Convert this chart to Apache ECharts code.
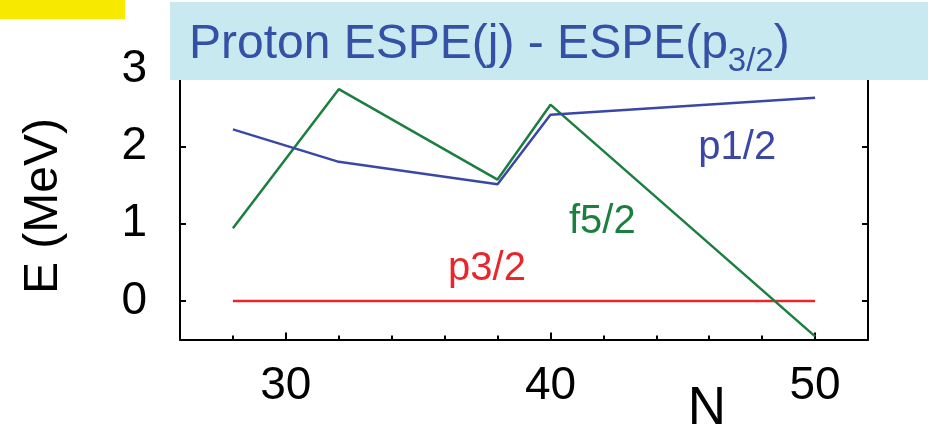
<!DOCTYPE html>
<html>
<head>
<meta charset="utf-8">
<script src="https://cdn.jsdelivr.net/npm/echarts@6/dist/echarts.min.js"></script>
<style>
  html, body { margin: 0; padding: 0; background: #ffffff; }
  #chart { width: 928px; height: 432px; }
</style>
</head>
<body>
<div id="chart"></div>
<script>
// Neutron number N and effective single-particle energies relative to p3/2 (MeV)
const nValues = [28, 32, 38, 40, 50];
const p32Energy = [0, 0, 0, 0, 0];
const p12Energy = [2.22, 1.80, 1.51, 2.41, 2.63];
const f52Energy = [0.94, 2.74, 1.57, 2.54, -0.46];

const xLabelValues = [30, 40, 50];
const xMinorTicks = [28, 32, 34, 36, 38, 42, 44, 46, 48];
const yTickValues = [0, 1, 2, 3];

// Where each orbital name sits, in data coordinates
const labelSpots = {
  'p3/2': [37.6, 0.41],
  'p1/2': [47.06, 1.98],
  'f5/2': [41.96, 1.02]
};

const FONT = '"Liberation Sans", Arial, Helvetica, sans-serif';
const RED = '#e8262b', BLUE = '#3a47a6', GREEN = '#1b7f3f';

function pairs(ys) { return nValues.map((n, i) => [n, ys[i]]); }

function curve(name, ys, color) {
  return {
    name: name,
    type: 'line',
    data: pairs(ys),
    symbol: 'none',
    lineStyle: { color: color, width: 2.5 },
    animation: false,
    markPoint: {
      symbol: 'circle',
      symbolSize: 0,
      silent: true,
      data: [{ name: name, coord: labelSpots[name] }],
      label: {
        show: true,
        position: 'inside',
        formatter: '{b}',
        color: color,
        fontFamily: FONT,
        fontSize: 40
      }
    }
  };
}

const axisLineStyle = { show: true, onZero: false, lineStyle: { color: '#000', width: 2 } };

const chart = echarts.init(document.getElementById('chart'), null, { renderer: 'canvas' });
chart.setOption({
  animation: false,
  backgroundColor: '#ffffff',
  title: {
    text: '{a|Proton ESPE(j) - ESPE(p}{s|3/2}{a|)}',
    left: 189,
    top: 13,
    padding: 0,
    z: 20,
    textStyle: {
      fontWeight: 'normal',
      rich: {
        a: { fontFamily: FONT, fontSize: 48, fontWeight: 'normal', color: '#3551a6', lineHeight: 56, verticalAlign: 'bottom' },
        // subscript: pushed down from the line top by its top padding
        s: { fontFamily: FONT, fontSize: 33, fontWeight: 'normal', color: '#3551a6', lineHeight: 10, verticalAlign: 'top', padding: [32, 0, 0, 0] }
      }
    }
  },
  graphic: [
    { type: 'rect', z: 10, shape: { x: 0, y: 0, width: 125, height: 19 }, style: { fill: '#f7ea00' } },
    { type: 'rect', z: 10, shape: { x: 170, y: 2, width: 758, height: 78 }, style: { fill: '#c9e9f0' } }
  ],
  grid: { left: 180, right: 60, top: 30.5, bottom: 92.5, containLabel: false, outerBoundsMode: 'none' },
  xAxis: [
    {
      type: 'value', min: 26, max: 52, position: 'bottom',
      name: 'N', nameLocation: 'middle', nameGap: 43, nameMoveOverlap: false,
      nameTextStyle: { fontFamily: FONT, fontSize: 53, color: '#000', padding: [0, 0, 0, 366], verticalAlign: 'top' },
      axisLine: axisLineStyle,
      axisTick: { show: true, inside: true, length: 7, customValues: xLabelValues, lineStyle: { color: '#000', width: 2 } },
      axisLabel: { customValues: xLabelValues, margin: 24, fontFamily: FONT, fontSize: 46, color: '#000' },
      splitLine: { show: false }
    },
    {
      type: 'value', min: 26, max: 52, position: 'bottom',
      axisLine: { show: false, onZero: false },
      axisTick: { show: true, inside: true, length: 4, customValues: xMinorTicks, lineStyle: { color: '#000', width: 2 } },
      axisLabel: { show: false },
      splitLine: { show: false }
    }
  ],
  yAxis: [
    {
      type: 'value', min: -0.5, max: 3.5, position: 'left',
      name: 'E (MeV)', nameLocation: 'middle', nameGap: 112, nameRotate: 90, nameMoveOverlap: false,
      nameTextStyle: { fontFamily: FONT, fontSize: 48, color: '#000', padding: [0, 42, 0, 0] },
      axisLine: axisLineStyle,
      axisTick: { show: true, inside: true, length: 6, customValues: yTickValues, lineStyle: { color: '#000', width: 2 } },
      axisLabel: { customValues: yTickValues, margin: 33, fontFamily: FONT, fontSize: 46, color: '#000' },
      splitLine: { show: false }
    },
    {
      type: 'value', min: -0.5, max: 3.5, position: 'right',
      axisLine: axisLineStyle,
      axisTick: { show: true, inside: true, length: 6, customValues: yTickValues, lineStyle: { color: '#000', width: 2 } },
      axisLabel: { show: false },
      splitLine: { show: false }
    }
  ],
  series: [
    curve('p3/2', p32Energy, RED),
    curve('f5/2', f52Energy, GREEN),
    curve('p1/2', p12Energy, BLUE)
  ]
});
</script>
</body>
</html>
